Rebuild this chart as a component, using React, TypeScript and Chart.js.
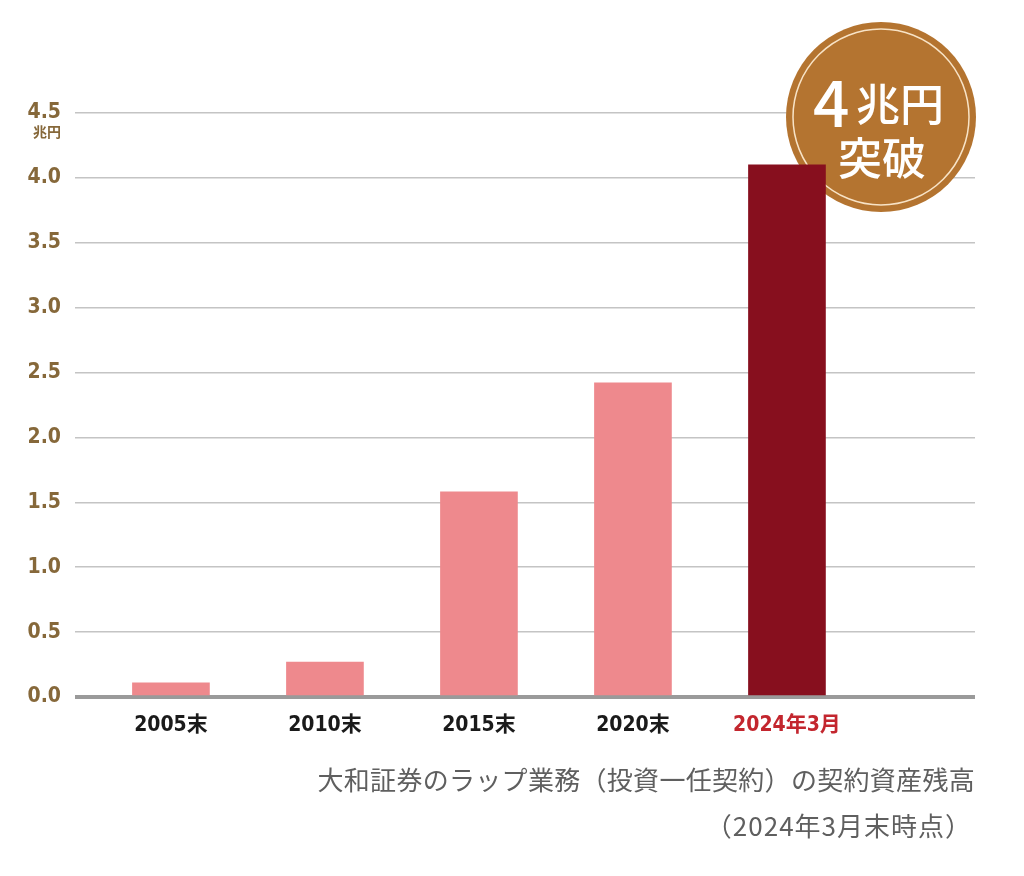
import React, { useEffect, useRef } from "react";
import { Chart, registerables } from "chart.js";

Chart.register(...registerables);

const categories = ["2005末", "2010末", "2015末", "2020末", "2024年3月"];
const values = [0.11, 0.27, 1.58, 2.42, 4.1];
const barColors = ["#EE898D", "#EE898D", "#EE898D", "#EE898D", "#870F1E"];
const labelColors = ["#1a1a1a", "#1a1a1a", "#1a1a1a", "#1a1a1a", "#C3262E"];
const yTicks = [0, 0.5, 1, 1.5, 2, 2.5, 3, 3.5, 4, 4.5];
const unitLabel = "兆円";
const badgeNumber = "4";
const badgeLine1 = "兆円";
const badgeLine2 = "突破";
const caption1 = "大和証券のラップ業務（投資一任契約）の契約資産残高";
const caption2 = "（2024年3月末時点）";

const condensed = "'Liberation Sans Narrow', 'DejaVu Sans Condensed', 'Noto Sans CJK JP', sans-serif";

export default function App() {
  const ref = useRef<HTMLCanvasElement | null>(null);

  useEffect(() => {
    document.body.style.margin = "0";
    const canvas = ref.current;
    if (!canvas) return;

    const badgePlugin = {
      id: "badge",
      beforeDatasetsDraw(chart: any) {
        const c = chart.ctx;
        const cx = 881;
        const cy = 117;
        c.save();
        c.beginPath();
        c.arc(cx, cy, 95, 0, Math.PI * 2);
        c.fillStyle = "#B47430";
        c.fill();
        c.beginPath();
        c.arc(cx, cy, 88, 0, Math.PI * 2);
        c.strokeStyle = "rgba(255,240,215,0.9)";
        c.lineWidth = 1.5;
        c.stroke();
        c.fillStyle = "#ffffff";
        c.textBaseline = "alphabetic";
        c.textAlign = "left";
        c.font = "500 64px 'Noto Sans CJK JP', sans-serif";
        c.fillText(badgeNumber, 813, 127);
        c.font = "500 44px 'Noto Sans CJK JP', sans-serif";
        c.fillText(badgeLine1, 856, 121);
        c.textAlign = "center";
        c.fillText(badgeLine2, 882, 175);
        c.restore();
      },
    };

    const unitPlugin = {
      id: "unit",
      afterDraw(chart: any) {
        const c = chart.ctx;
        c.save();
        c.fillStyle = "#86683A";
        c.font = "bold 14px 'Noto Sans CJK JP', sans-serif";
        c.textAlign = "right";
        c.textBaseline = "middle";
        c.fillText(unitLabel, 61, 132);
        c.restore();
      },
    };

    const chart = new Chart(canvas, {
      type: "bar",
      data: {
        datasets: [
          {
            data: values.map((v, i) => ({ x: i, y: v })),
            backgroundColor: barColors,
            barThickness: 77,
            borderWidth: 0,
          },
        ],
      },
      options: {
        animation: false,
        responsive: false,
        maintainAspectRatio: false,
        layout: { padding: { top: 113, right: 49, bottom: 139, left: 0 } },
        plugins: { legend: { display: false }, tooltip: { enabled: false } },
        scales: {
          x: {
            type: "linear",
            offset: false,
            min: -0.623,
            max: 5.221,
            grid: { display: false, offset: false },
            border: { display: false },
            afterBuildTicks: (scale: any) => {
              scale.ticks = categories.map((_, i) => ({ value: i }));
            },
            afterFit: (scale: any) => {
              scale.height = 40;
            },
            ticks: {
              autoSkip: false,
              maxRotation: 0,
              padding: 8,
              callback: (v: any) => categories[v as number] ?? "",
              color: (ctx: any) => labelColors[ctx.index] ?? "#1a1a1a",
              font: { family: condensed, size: 21, weight: "bold" },
            },
          },
          y: {
            min: 0,
            max: 4.5,
            afterBuildTicks: (scale: any) => {
              scale.ticks = yTicks.map((v) => ({ value: v }));
            },
            afterFit: (scale: any) => {
              scale.width = 75;
            },
            border: { display: false },
            grid: {
              drawTicks: false,
              color: (ctx: any) => (ctx.tick && ctx.tick.value === 0 ? "#9a9a9a" : "#c4c4c4"),
              lineWidth: (ctx: any) => (ctx.tick && ctx.tick.value === 0 ? 4 : 1.5),
            },
            ticks: {
              padding: 14,
              color: "#86683A",
              callback: (v: any) => Number(v).toFixed(1),
              font: { family: condensed, size: 21, weight: "bold" },
            },
          },
        },
      },
      plugins: [badgePlugin, unitPlugin],
    } as any);

    return () => chart.destroy();
  }, []);

  const captionStyle: React.CSSProperties = {
    position: "absolute",
    right: 49,
    color: "#5f5f5f",
    fontFamily: "'Noto Sans CJK JP', sans-serif",
    fontSize: 26,
    lineHeight: "30px",
    whiteSpace: "nowrap",
    letterSpacing: "0.3px",
  };

  return (
    <div style={{ position: "relative", width: 1024, height: 876 }}>
      <canvas ref={ref} width={1024} height={876} style={{ display: "block" }} />
      <div style={{ ...captionStyle, top: 764 }}>{caption1}</div>
      <div style={{ ...captionStyle, top: 810, right: 52, letterSpacing: "1px" }}>{caption2}</div>
    </div>
  );
}
